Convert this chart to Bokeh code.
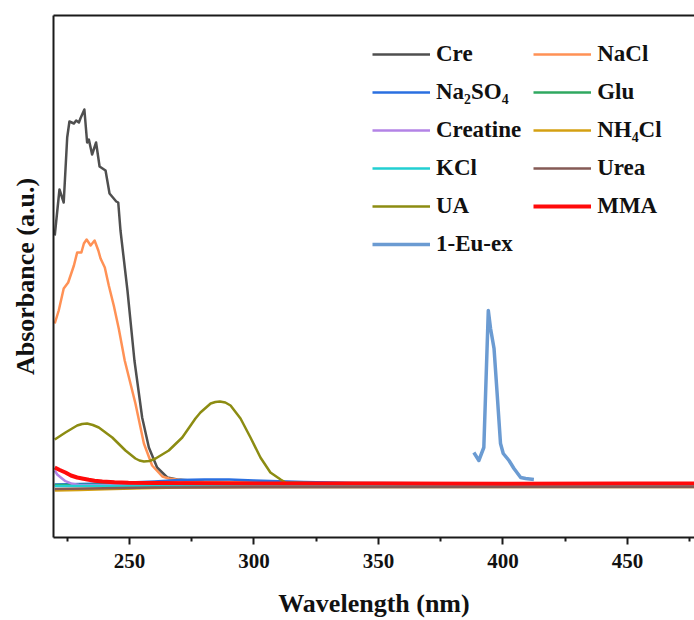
from bokeh.plotting import figure
from bokeh.models import (Range1d, LinearAxis, FixedTicker, Legend, LegendItem)
from bokeh.embed import file_html
from bokeh.resources import INLINE

# UV-vis absorbance spectra of the analytes and the excitation band of 1-Eu
cre_nm = [220.0, 221.9, 223.6, 225.0, 225.9, 227.7, 228.6, 229.7, 230.3, 231.9, 233.0, 233.7,
          235.0, 236.6, 238.0, 240.4, 242.0, 244.7, 245.5, 246.4, 249.2, 252.0, 255.1, 257.8,
          261.1, 265.2, 269.2, 280.0, 300.0, 350.0, 400.0, 477.0]
cre_abs = [2.50, 2.96, 2.83, 3.48, 3.64, 3.62, 3.65, 3.63, 3.67, 3.76, 3.43, 3.46,
           3.31, 3.43, 3.19, 3.15, 2.92, 2.84, 2.83, 2.55, 1.95, 1.25, 0.68, 0.38,
           0.18, 0.08, 0.06, 0.04, 0.03, 0.02, 0.02, 0.02]

nacl_nm = [220.0, 221.6, 223.6, 225.4, 227.7, 229.0, 230.7, 231.7, 232.8, 234.4, 236.0, 237.5,
           238.4, 240.1, 241.7, 243.7, 245.7, 248.1, 252.4, 255.8, 259.1, 263.2, 265.8, 275.0,
           300.0, 400.0, 477.0]
nacl_abs = [1.62, 1.75, 1.97, 2.03, 2.20, 2.33, 2.33, 2.42, 2.46, 2.40, 2.45, 2.35,
            2.27, 2.18, 2.00, 1.80, 1.57, 1.25, 0.82, 0.42, 0.20, 0.09, 0.07, 0.04,
            0.03, 0.02, 0.02]

na2so4_nm = [220, 240, 260, 270, 280, 290, 300, 320, 340, 400, 477]
na2so4_abs = [0.01, 0.02, 0.04, 0.055, 0.06, 0.06, 0.05, 0.035, 0.025, 0.02, 0.02]

glu_nm = [220, 260, 300, 400, 477]
glu_abs = [0.005, 0.01, 0.01, 0.01, 0.01]

creatine_nm = [220, 221, 222.3, 224.3, 227, 229.7, 260, 350, 477]
creatine_abs = [0.15, 0.11, 0.083, 0.043, 0.017, 0.005, 0.0, 0.0, 0.0]

nh4cl_nm = [220, 230, 240, 255, 270, 300, 400, 477]
nh4cl_abs = [-0.05, -0.045, -0.037, -0.028, -0.02, -0.016, -0.015, -0.014]

kcl_nm = [220, 260, 300, 400, 477]
kcl_abs = [-0.006, -0.004, -0.003, -0.004, -0.005]

urea_nm = [220, 240, 260, 300, 400, 477]
urea_abs = [-0.035, -0.028, -0.02, -0.017, -0.015, -0.015]

ua_nm = [220.0, 224.3, 229.0, 231.0, 233.0, 235.3, 237.7, 243.1, 248.4, 252.4, 254.0, 255.8,
         258.0, 260.5, 265.8, 271.2, 276.5, 278.5, 282.6, 284.5, 286.3, 288.5, 290.6, 294.6,
         298.6, 302.6, 306.6, 310.7, 312.7, 330.0, 400.0, 477.0]
ua_abs = [0.46, 0.53, 0.60, 0.615, 0.62, 0.605, 0.58, 0.48, 0.35, 0.27, 0.25, 0.24,
          0.245, 0.27, 0.35, 0.48, 0.67, 0.73, 0.82, 0.835, 0.84, 0.83, 0.80, 0.67,
          0.48, 0.28, 0.13, 0.06, 0.03, 0.02, 0.02, 0.02]

mma_nm = [220, 222, 224.3, 226.5, 229, 231.5, 233.7, 236, 239.1, 244, 249.6, 260, 300, 350,
          400, 450, 477]
mma_abs = [0.18, 0.155, 0.13, 0.10, 0.08, 0.068, 0.057, 0.048, 0.04, 0.032, 0.027, 0.024,
           0.02, 0.02, 0.018, 0.02, 0.02]

eu_nm = [388.3, 390.3, 392.3, 394.1, 395.0, 396.4, 397.7, 399.0, 400.1, 402.4, 404.4, 407.1,
         409.1, 412.4]
eu_abs = [0.33, 0.25, 0.38, 1.75, 1.57, 1.37, 0.90, 0.42, 0.32, 0.25, 0.17, 0.08,
          0.07, 0.06]

# (label, wavelengths, absorbance, colour, width), in drawing order
series = [
    ("Cre", cre_nm, cre_abs, "#4f4f4f", 2.5),
    ("NaCl", nacl_nm, nacl_abs, "#ff9155", 2.5),
    ("Na\u2082SO\u2084", na2so4_nm, na2so4_abs, "#2a6fe0", 2.5),
    ("Glu", glu_nm, glu_abs, "#2fa860", 2.5),
    ("Creatine", creatine_nm, creatine_abs, "#b383e6", 2.5),
    ("NH\u2084Cl", nh4cl_nm, nh4cl_abs, "#d4a012", 2.5),
    ("KCl", kcl_nm, kcl_abs, "#22cfd2", 2.5),
    ("Urea", urea_nm, urea_abs, "#855a55", 2.5),
    ("UA", ua_nm, ua_abs, "#8c8c12", 2.5),
    ("MMA", mma_nm, mma_abs, "#ff0a0a", 4.0),
    ("1-Eu-ex", eu_nm, eu_abs, "#6b9bd2", 3.5),
]

FONT = "Liberation Serif"

p = figure(width=694, height=620, output_backend="svg", toolbar_location=None,
           x_range=Range1d(219.5, 476.9), y_range=Range1d(-0.52, 4.70),
           min_border_left=53, min_border_right=0, min_border_top=15,
           min_border_bottom=83)
p.outline_line_color = None
p.grid.visible = False
p.background_fill_color = "white"

renderers = {}
for label, xs, ys, color, lw in series:
    r = p.line(xs, ys, line_color=color, line_width=lw, line_join="round")
    renderers[label] = r

# bottom axis
xa = p.xaxis[0]
xa.ticker = FixedTicker(ticks=[250, 300, 350, 400, 450],
                        minor_ticks=[225, 275, 325, 375, 425, 475])
xa.axis_label = "Wavelength (nm)"
xa.axis_line_width = 2
xa.axis_line_color = "#1a1a1a"
xa.major_tick_line_width = 2
xa.major_tick_line_color = "#1a1a1a"
xa.minor_tick_line_width = 2
xa.minor_tick_line_color = "#1a1a1a"
xa.major_tick_in = 0
xa.major_tick_out = 7
xa.minor_tick_in = 0
xa.minor_tick_out = 4
xa.major_label_standoff = 9
xa.major_label_text_font = FONT
xa.major_label_text_font_style = "bold"
xa.major_label_text_font_size = "21px"
xa.major_label_text_color = "#111111"
xa.axis_label_text_font = FONT
xa.axis_label_text_font_style = "bold"
xa.axis_label_text_font_size = "26px"
xa.axis_label_text_color = "#111111"
xa.axis_label_standoff = 18

# left axis: no ticks, label only
ya = p.yaxis[0]
ya.ticker = FixedTicker(ticks=[])
ya.major_label_text_font_size = "0px"
ya.major_tick_line_color = None
ya.minor_tick_line_color = None
ya.axis_line_width = 2
ya.axis_line_color = "#1a1a1a"
ya.axis_label = "Absorbance (a.u.)"
ya.axis_label_text_font = FONT
ya.axis_label_text_font_style = "bold"
ya.axis_label_text_font_size = "26px"
ya.axis_label_text_color = "#111111"
ya.axis_label_standoff = 14

# top frame line
top = LinearAxis(ticker=FixedTicker(ticks=[]), major_label_text_font_size="0px",
                 major_tick_line_color=None, minor_tick_line_color=None,
                 axis_line_width=2, axis_line_color="#1a1a1a")
p.add_layout(top, "above")

# legend, two columns filled top to bottom
col_order = ["Cre", "Na\u2082SO\u2084", "Creatine", "KCl", "UA", "1-Eu-ex",
             "NaCl", "Glu", "NH\u2084Cl", "Urea", "MMA"]
items = [LegendItem(label=lbl, renderers=[renderers[lbl]]) for lbl in col_order]
legend = Legend(items=items, location=(319, 280), orientation="vertical", nrows=6,
                padding=0, margin=0, spacing=12, glyph_width=58, glyph_height=20,
                label_standoff=6, border_line_color=None, background_fill_alpha=0,
                label_text_font=FONT, label_text_font_style="bold",
                label_text_font_size="23px", label_text_color="#111111")
p.add_layout(legend, "center")

open("out.html", "w").write(file_html(p, INLINE))
